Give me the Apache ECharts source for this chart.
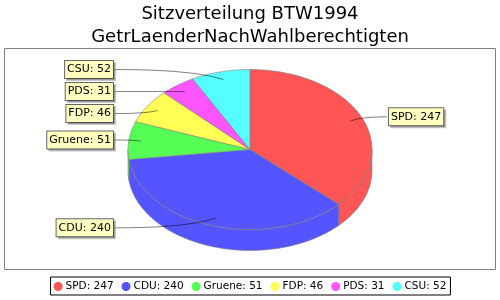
<!DOCTYPE html>
<html><head><meta charset="utf-8">
<script src="https://cdn.jsdelivr.net/npm/echarts@6/dist/echarts.min.js"></script>
<style>html,body{margin:0;padding:0;background:#fff}#c{width:500px;height:300px}</style>
</head><body><div id="c"></div>
<script>
const categories = ['SPD', 'CDU', 'Gruene', 'FDP', 'PDS', 'CSU'];
const seats = [247, 240, 51, 46, 31, 52];
const colors = ['#FF5555', '#5555FF', '#55FF55', '#FFFF55', '#FF55FF', '#55FFFF'];
const titleLines = ['Sitzverteilung BTW1994', 'GetrLaenderNachWahlberechtigten'];

const FONT = '"DejaVu Sans", Verdana, sans-serif';
const total = seats.reduce((a, b) => a + b, 0);
const CX = 250, CY = 149.5, RX = 122, RY = 80, DEPTH = 21;
const LEFT_X = 115, RIGHT_X = 387, GAP = 22;
const rad = d => d * Math.PI / 180;
const pt = (deg, f, dy) => [CX + RX * f * Math.cos(rad(deg)), CY - RY * f * Math.sin(rad(deg)) + (dy || 0)];
const names = categories.map((c, i) => c + ': ' + seats[i]);

// slice angles (start at 12 o'clock, clockwise)
const slices = [];
let cum = 0;
seats.forEach((v, i) => {
  const a0 = 90 - 360 * cum / total;
  const a1 = a0 - 360 * v / total;
  cum += v;
  slices.push({ a0, a1, mid: (a0 + a1) / 2 });
});
// label placement
slices.forEach(s => {
  s.right = Math.cos(rad(s.mid)) >= 0;
  s.ly = CY - RY * 1.03 * Math.sin(rad(s.mid));
});
[true, false].forEach(side => {
  const group = slices.filter(s => s.right === side).sort((a, b) => a.ly - b.ly);
  for (let k = 1; k < group.length; k++) {
    if (group[k].ly < group[k - 1].ly + GAP) group[k].ly = group[k - 1].ly + GAP;
  }
});

function arc(from, to, f, dy) {
  const pts = [];
  const n = Math.max(2, Math.ceil(Math.abs(to - from)));
  for (let k = 0; k <= n; k++) pts.push(pt(from + (to - from) * k / n, f, dy));
  return pts;
}

function makeRender(i) {
  return function (params, api) {
    const s = slices[i];
    const children = [];
    const stroke = { stroke: '#808080', lineWidth: 0.6 };
    // side wall (front half: angles -180..0)
    const e = Math.min(s.a0, 0), st = Math.max(s.a1, -180);
    if (e > st) {
      const pts = arc(e, st, 1, 0).concat(arc(st, e, 1, DEPTH));
      children.push({ type: 'polygon', z2: 1, shape: { points: pts }, style: Object.assign({ fill: colors[i] }, stroke) });
    }
    // top face
    const top = [[CX, CY]].concat(arc(s.a0, s.a1, 1, 0));
    children.push({ type: 'polygon', z2: 5, shape: { points: top }, style: Object.assign({ fill: colors[i] }, stroke) });
    // label link
    const link = pt(s.mid, 0.9);
    const lx = s.right ? RIGHT_X : LEFT_X, ly = s.ly;
    children.push({
      type: 'bezierCurve', z2: 8,
      shape: {
        x1: lx, y1: ly, x2: link[0], y2: link[1],
        cpx1: lx * 0.4 + link[0] * 0.6, cpy1: ly,
        cpx2: lx * 0.15 + link[0] * 0.85, cpy2: ly * 0.5 + link[1] * 0.5
      },
      style: { fill: 'none', stroke: '#000', lineWidth: 0.5 }
    });
    // label box
    children.push({
      type: 'text', z2: 10,
      style: {
        text: names[i], x: s.right ? lx + 2 : lx - 2, y: ly,
        align: s.right ? 'left' : 'right', verticalAlign: 'middle',
        font: '11px ' + FONT, fill: '#000',
        backgroundColor: '#FFFFC0', borderColor: '#666', borderWidth: 1,
        padding: [3, 2, 3, 2],
        shadowColor: 'rgba(0,0,0,0.22)', shadowOffsetX: 2, shadowOffsetY: 2, shadowBlur: 0
      }
    });
    return { type: 'group', children };
  };
}

const chart = echarts.init(document.getElementById('c'), null, { renderer: 'canvas' });
chart.setOption({
  animation: false,
  backgroundColor: '#fff',
  title: {
    text: titleLines.join('\n'), left: 'center', top: 3, padding: 0,
    textStyle: { fontFamily: FONT, fontSize: 18, fontWeight: 'normal', color: '#000', lineHeight: 23 }
  },
  graphic: [{
    type: 'rect', shape: { x: 4.5, y: 48.5, width: 491, height: 221 },
    style: { fill: '#fff', stroke: '#808080', lineWidth: 1 }, z: 0, silent: true
  }],
  legend: {
    data: names, top: 277, left: 'center', icon: 'circle', itemWidth: 9, itemHeight: 9, itemGap: 8,
    borderColor: '#000', borderWidth: 1, padding: [4, 4, 3, 3], selectedMode: false,
    textStyle: { fontFamily: FONT, fontSize: 10.5, color: '#000', padding: [0, 0, 0, -2] }
  },
  series: categories.map((c, i) => ({
    type: 'custom', name: names[i], coordinateSystem: 'none', silent: true,
    itemStyle: { color: colors[i] },
    data: [[seats[i]]],
    renderItem: makeRender(i)
  }))
});
</script></body></html>
